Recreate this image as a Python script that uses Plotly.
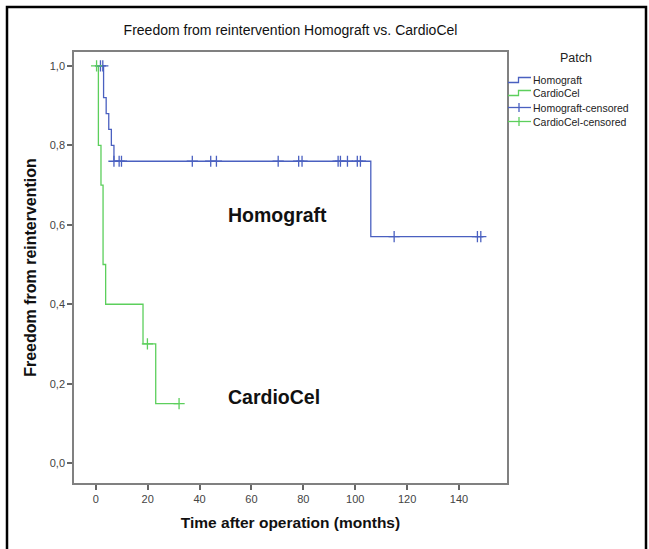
import plotly.graph_objects as go

# ---- data ----
homograft_time = [0, 3, 4, 5, 6, 7, 106, 149.5]
homograft_surv = [1.0, 0.92, 0.88, 0.84, 0.80, 0.76, 0.57, 0.57]

homograft_cens_time = [1.8, 2.7, 7.0, 9.0, 9.9, 37.2, 44.3, 46.5, 70.3, 78.2, 79.5,
                       93.4, 94.3, 97.0, 100.8, 102.0, 115.0, 147.1, 148.4]
homograft_cens_surv = [1.0, 1.0, 0.76, 0.76, 0.76, 0.76, 0.76, 0.76, 0.76, 0.76, 0.76,
                       0.76, 0.76, 0.76, 0.76, 0.76, 0.57, 0.57, 0.57]

cardiocel_time = [0, 1.0, 2.0, 2.8, 3.8, 18.2, 23.1, 32.1]
cardiocel_surv = [1.0, 0.80, 0.70, 0.50, 0.40, 0.30, 0.15, 0.15]

cardiocel_cens_time = [0.3, 19.9, 32.1]
cardiocel_cens_surv = [1.0, 0.30, 0.15]

x_ticks = [0, 20, 40, 60, 80, 100, 120, 140]
y_ticks = [0.0, 0.2, 0.4, 0.6, 0.8, 1.0]
y_tick_labels = ["0,0", "0,2", "0,4", "0,6", "0,8", "1,0"]

legend_title = "Patch"
legend_names = ["Homograft", "CardioCel", "Homograft-censored", "CardioCel-censored"]

BLUE = "#4a60c0"
GREEN = "#5ccf5c"
FONT = "Arial, Liberation Sans, sans-serif"

# plot area in page pixels
L, R, T, B = 74, 507, 52, 483


def pxx(x):
    return (x - L) / (R - L)


def pxy(y):
    return (B - y) / (B - T)


fig = go.Figure()
fig.add_trace(go.Scatter(x=homograft_time, y=homograft_surv, mode="lines",
                         line=dict(color=BLUE, width=1.3, shape="hv"),
                         name=legend_names[0], showlegend=False))
fig.add_trace(go.Scatter(x=cardiocel_time, y=cardiocel_surv, mode="lines",
                         line=dict(color=GREEN, width=1.3, shape="hv"),
                         name=legend_names[1], showlegend=False))
fig.add_trace(go.Scatter(x=homograft_cens_time, y=homograft_cens_surv,
                         mode="markers",
                         marker=dict(symbol="cross-thin", size=8, color=BLUE,
                                     line=dict(color=BLUE, width=1.3)),
                         name=legend_names[2], showlegend=False))
fig.add_trace(go.Scatter(x=cardiocel_cens_time, y=cardiocel_cens_surv,
                         mode="markers",
                         marker=dict(symbol="cross-thin", size=8, color=GREEN,
                                     line=dict(color=GREEN, width=1.3)),
                         name=legend_names[3], showlegend=False))

fig.add_annotation(x=50.3, y=0.625, xref="x", yref="y", text="<b>Homograft</b>",
                   showarrow=False, xanchor="left",
                   font=dict(family=FONT, size=19.5, color="#111"))
fig.add_annotation(x=50.3, y=0.167, xref="x", yref="y", text="<b>CardioCel</b>",
                   showarrow=False, xanchor="left",
                   font=dict(family=FONT, size=19.5, color="#111"))

# ---- hand-drawn legend (SPSS style) ----
fig.add_annotation(x=pxx(576), y=pxy(58), xref="paper", yref="paper", text=legend_title,
                   showarrow=False, xanchor="center", yanchor="middle",
                   font=dict(family=FONT, size=12.5, color="#222"))
item_y = [80, 93, 107.5, 121.5]
item_col = [BLUE, GREEN, BLUE, GREEN]
for i, (name, yc, col) in enumerate(zip(legend_names, item_y, item_col)):
    if i < 2:
        path = (f"M {pxx(508)} {pxy(yc + 2.5)} L {pxx(518.5)} {pxy(yc + 2.5)} "
                f"L {pxx(518.5)} {pxy(yc - 2.5)} L {pxx(531)} {pxy(yc - 2.5)}")
        fig.add_shape(type="path", xref="paper", yref="paper", path=path,
                      line=dict(color=col, width=1.3))
    else:
        fig.add_shape(type="line", xref="paper", yref="paper",
                      x0=pxx(508), x1=pxx(531), y0=pxy(yc), y1=pxy(yc),
                      line=dict(color=col, width=1.3))
        fig.add_shape(type="line", xref="paper", yref="paper",
                      x0=pxx(519), x1=pxx(519), y0=pxy(yc - 4.5), y1=pxy(yc + 4.5),
                      line=dict(color=col, width=1.3))
    fig.add_annotation(x=pxx(530.5), y=pxy(yc), xref="paper", yref="paper", text=name,
                       showarrow=False, xanchor="left", yanchor="middle",
                       font=dict(family=FONT, size=10.5, color="#222"))

# outer frame
fig.add_shape(type="path", xref="paper", yref="paper",
              path=(f"M {pxx(7)} {pxy(560)} L {pxx(7)} {pxy(7)} "
                    f"L {pxx(646)} {pxy(7)} L {pxx(646)} {pxy(560)}"),
              line=dict(color="black", width=2.5))

fig.update_layout(
    width=649, height=549,
    margin=dict(l=L, r=649 - R, t=T, b=549 - B),
    paper_bgcolor="white", plot_bgcolor="white",
    title=dict(text="Freedom from reintervention Homograft vs. CardioCel",
               x=((L + R) / 2) / 649, xanchor="center", y=1 - 30 / 549, yanchor="middle",
               font=dict(family=FONT, size=14, color="#111")),
    font=dict(family=FONT, color="#333"),
    showlegend=False,
)
fig.update_xaxes(range=[-8.4, 158.5], tickvals=x_ticks, ticks="outside", ticklen=5,
                 tickcolor="#666", tickwidth=1.5, showgrid=False, zeroline=False,
                 showline=True, linecolor="#808080", linewidth=1.5, mirror=True,
                 tickfont=dict(family=FONT, size=11, color="#444"),
                 title=dict(text="<b>Time after operation (months)</b>", standoff=13,
                            font=dict(family=FONT, size=15.5, color="#111")))
fig.update_yaxes(range=[-0.05, 1.035], tickvals=y_ticks, ticktext=y_tick_labels,
                 ticks="outside", ticklen=5, tickcolor="#666", tickwidth=1.5,
                 showgrid=False, zeroline=False,
                 showline=True, linecolor="#808080", linewidth=1.5, mirror=True,
                 tickfont=dict(family=FONT, size=11, color="#444"),
                 title=dict(text="<b>Freedom from reintervention</b>", standoff=9,
                            font=dict(family=FONT, size=16, color="#111")))

fig.write_html("out.html", config={"displayModeBar": False},
               post_script="document.body.style.margin='0';")
